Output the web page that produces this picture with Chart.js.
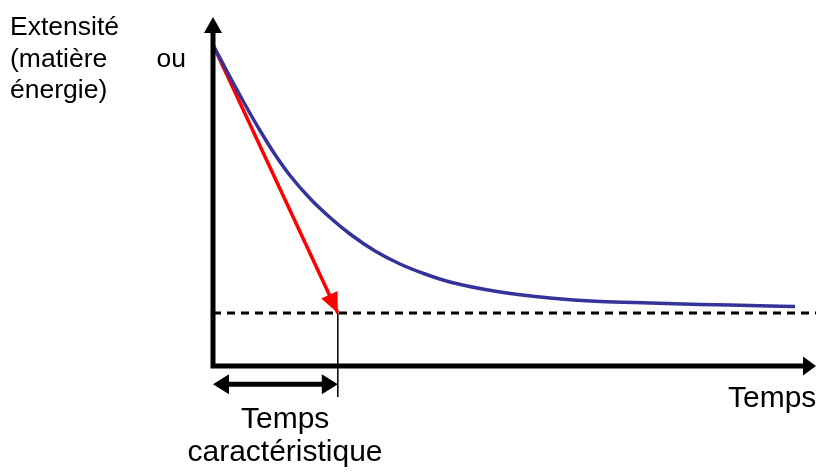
<!DOCTYPE html>
<html lang="fr">
<head>
<meta charset="utf-8">
<title>Temps caractéristique</title>
<script src="https://cdn.jsdelivr.net/npm/chart.js@4"></script>
<style>
  html, body { margin: 0; padding: 0; background: #fff; }
  #wrap { width: 816px; height: 475px; }
</style>
</head>
<body>
<div id="wrap"><canvas id="chart" width="816" height="475"></canvas></div>
<script>
// courbe de décroissance (temps, extensité)
const curveTime = [0, 2.82, 5.31, 7.79, 10.28, 12.77, 16.09, 19.40, 22.72, 26.87, 31.01, 35.16, 39.30, 47.60, 55.89, 64.18, 72.47, 80.76, 89.05, 96.52];
const curveValue = [91.98, 82.81, 74.93, 67.48, 60.60, 54.58, 47.99, 42.55, 37.82, 32.95, 29.23, 26.36, 24.07, 21.20, 19.48, 18.48, 18.05, 17.62, 17.34, 17.05];

// asymptote, tangente à l'origine, temps caractéristique
const plateau = 15.2;
const tau = 20.7;
const tangentTime = [0, tau];
const tangentValue = [91.98, plateau];
const markerBottom = -8.9;
const spanLevel = -5.2;

const axisLabels = ["Extensité", "(matière", "ou", "énergie)"];
const timeLabel = "Temps";
const tauLabels = ["Temps", "caractéristique"];

function pts(xs, ys) {
  return xs.map((x, i) => ({ x, y: ys[i] }));
}

function head(ctx, x1, y1, x2, y2, len, half) {
  const a = Math.atan2(y2 - y1, x2 - x1);
  ctx.beginPath();
  ctx.moveTo(x2, y2);
  ctx.lineTo(x2 - len * Math.cos(a) + half * Math.sin(a), y2 - len * Math.sin(a) - half * Math.cos(a));
  ctx.lineTo(x2 - len * Math.cos(a) - half * Math.sin(a), y2 - len * Math.sin(a) + half * Math.cos(a));
  ctx.closePath();
  ctx.fill();
}

const decor = {
  id: "decor",
  afterDatasetsDraw(chart) {
    const ctx = chart.ctx;
    const xs = chart.scales.x;
    const ys = chart.scales.y;
    const x0 = xs.getPixelForValue(0);
    const y0 = ys.getPixelForValue(0);
    ctx.save();

    // axes avec flèches
    ctx.strokeStyle = "#000";
    ctx.fillStyle = "#000";
    ctx.lineWidth = 5;
    ctx.beginPath();
    ctx.moveTo(x0, y0 + 2.5);
    ctx.lineTo(x0, 30);
    ctx.moveTo(x0 - 2.5, y0);
    ctx.lineTo(chart.width - 10, y0);
    ctx.stroke();
    head(ctx, x0, y0, x0, 17, 16, 9);
    head(ctx, x0, y0, chart.width, y0, 13, 9.5);

    // pointe de la tangente
    ctx.fillStyle = "#ff0000";
    const tx = xs.getPixelForValue(tangentTime[1]);
    const ty = ys.getPixelForValue(tangentValue[1]);
    head(ctx, xs.getPixelForValue(tangentTime[0]), ys.getPixelForValue(tangentValue[0]), tx, ty, 20, 9);

    // double flèche du temps caractéristique
    ctx.fillStyle = "#000";
    ctx.lineWidth = 5;
    const sy = ys.getPixelForValue(spanLevel);
    ctx.beginPath();
    ctx.moveTo(x0 + 12, sy);
    ctx.lineTo(tx - 12, sy);
    ctx.stroke();
    head(ctx, tx, sy, x0, sy, 16, 10);
    head(ctx, x0, sy, tx, sy, 16, 10);

    // textes
    ctx.font = '26.5px "Liberation Sans", Arial, sans-serif';
    ctx.textBaseline = "alphabetic";
    ctx.textAlign = "left";
    ctx.fillText(axisLabels[0], 10, 35);
    ctx.fillText(axisLabels[1], 10, 67);
    ctx.textAlign = "right";
    ctx.fillText(axisLabels[2], 186, 67);
    ctx.textAlign = "left";
    ctx.fillText(axisLabels[3], 10, 98);

    ctx.font = '30px "Liberation Sans", Arial, sans-serif';
    ctx.fillText(timeLabel, 728, 407);
    ctx.fillText(tauLabels[0], 241, 428);
    ctx.textAlign = "center";
    ctx.fillText(tauLabels[1], 285, 461);
    ctx.restore();
  },
};

new Chart(document.getElementById("chart"), {
  type: "scatter",
  data: {
    datasets: [
      {
        data: pts([0, 100], [plateau, plateau]),
        showLine: true,
        borderColor: "#000",
        borderWidth: 3,
        borderDash: [8, 6],
        pointRadius: 0,
        clip: false,
      },
      {
        data: pts([tau, tau], [plateau, markerBottom]),
        showLine: true,
        borderColor: "#000",
        borderWidth: 1.5,
        pointRadius: 0,
        clip: false,
      },
      {
        data: pts(curveTime, curveValue),
        showLine: true,
        borderColor: "#333399",
        borderWidth: 3.5,
        cubicInterpolationMode: "monotone",
        pointRadius: 0,
        clip: false,
      },
      {
        data: pts(tangentTime, tangentValue),
        showLine: true,
        borderColor: "#ff0000",
        borderWidth: 3.5,
        pointRadius: 0,
        clip: false,
      },
    ],
  },
  options: {
    responsive: false,
    animation: false,
    events: [],
    layout: { padding: { left: 213, right: 0, top: 17, bottom: 109 } },
    plugins: { legend: { display: false }, tooltip: { enabled: false } },
    scales: {
      x: { type: "linear", min: 0, max: 100, display: false },
      y: { type: "linear", min: 0, max: 100, display: false },
    },
  },
  plugins: [decor],
});
</script>
</body>
</html>
